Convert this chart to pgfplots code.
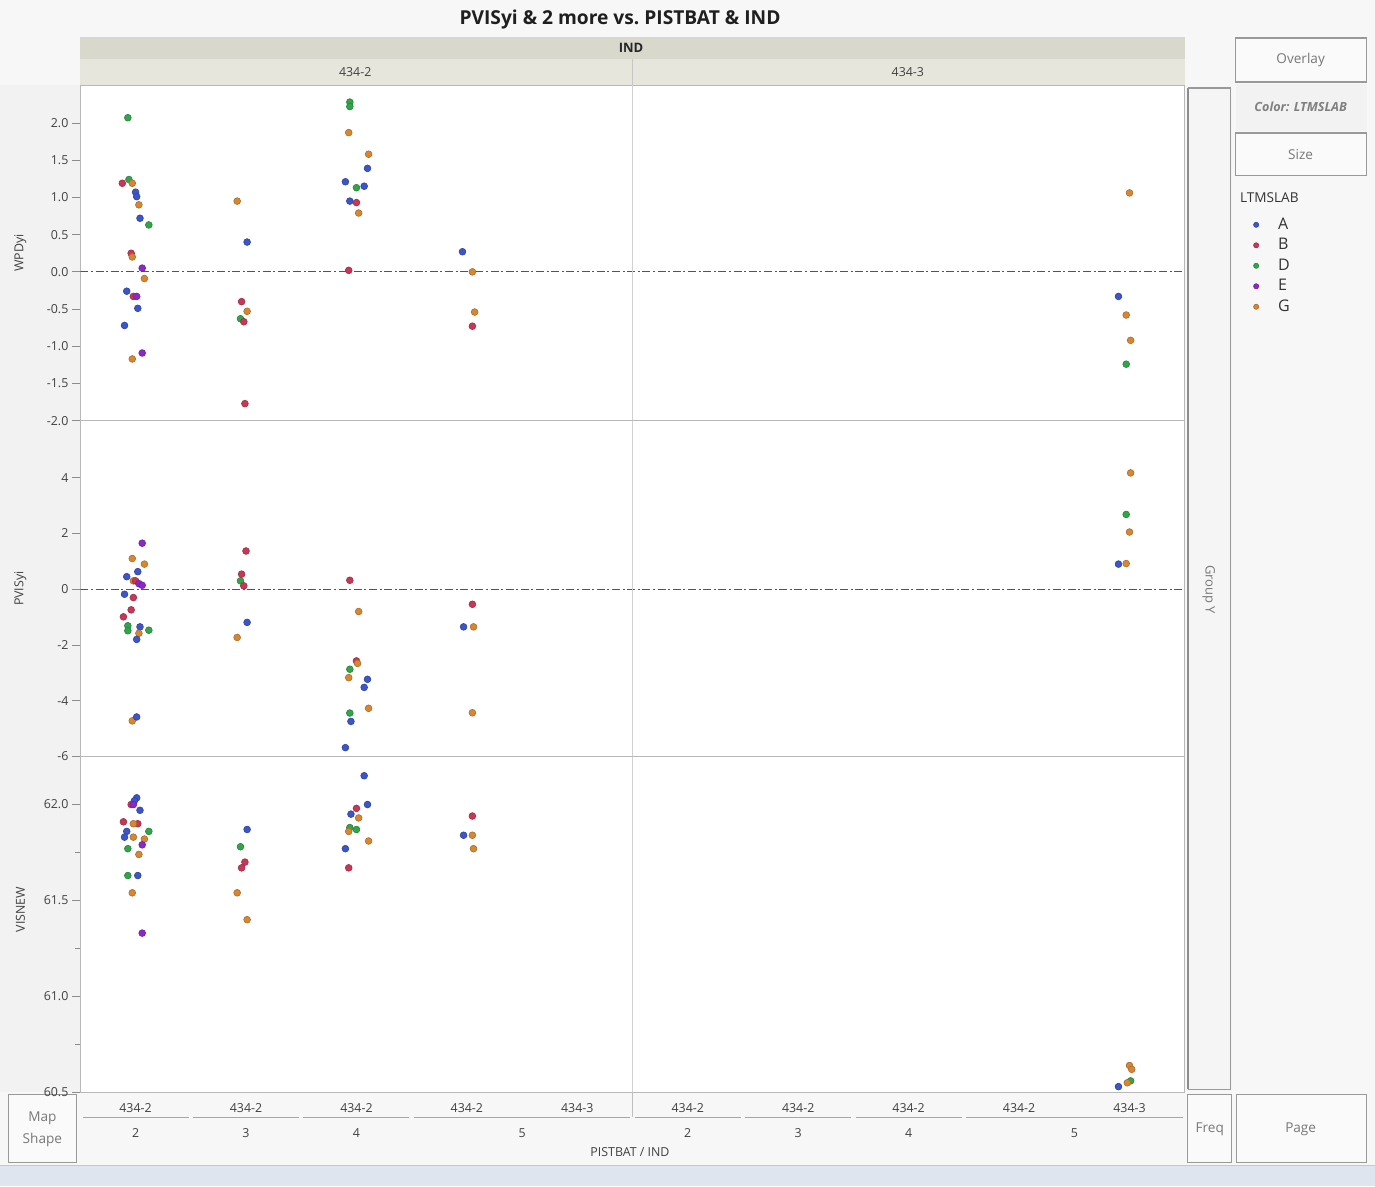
\documentclass[border=0pt]{standalone}
\usepackage{fontspec}
\setmainfont{Open Sans}
\usepackage{pgfplots}
\usepackage{pgfplotstable}
\pgfplotsset{compat=1.18}

\definecolor{cA}{RGB}{60,85,200}
\definecolor{cB}{RGB}{200,55,85}
\definecolor{cD}{RGB}{50,165,75}
\definecolor{cE}{RGB}{140,40,200}
\definecolor{cG}{RGB}{215,135,50}
\definecolor{refl}{RGB}{165,45,75}
\definecolor{bg}{RGB}{247,247,247}
\definecolor{hdrA}{RGB}{217,216,205}
\definecolor{hdrB}{RGB}{231,230,221}
\definecolor{txt}{RGB}{65,65,65}
\definecolor{btn}{RGB}{120,120,120}
\definecolor{strip}{RGB}{223,229,238}

\pgfplotstableread{
x y c
-0.07 2.07 D
-0.12 1.19 B
-0.06 1.24 D
-0.03 1.19 G
0.00 1.07 A
0.01 1.01 A
0.03 0.90 G
0.04 0.72 A
0.12 0.63 D
-0.04 0.25 B
-0.03 0.20 G
0.06 0.05 E
0.08 -0.09 G
-0.08 -0.26 A
-0.02 -0.33 B
0.01 -0.33 E
0.02 -0.49 A
-0.10 -0.72 A
-0.03 -1.17 G
0.06 -1.09 E
0.92 0.95 G
1.01 0.40 A
0.96 -0.40 B
1.01 -0.53 G
0.95 -0.63 D
0.98 -0.67 B
0.99 -1.77 B
1.94 2.28 D
1.94 2.22 D
1.93 1.87 G
2.11 1.58 G
2.10 1.39 A
1.90 1.21 A
2.00 1.13 D
2.07 1.15 A
1.94 0.95 A
2.00 0.93 B
2.02 0.79 G
1.93 0.02 B
2.96 0.27 A
3.05 0.00 G
3.07 -0.54 G
3.05 -0.73 B
9.00 1.06 G
8.90 -0.33 A
8.97 -0.58 G
9.01 -0.92 G
8.97 -1.24 D
}\wpd

\pgfplotstableread{
x y c
0.06 1.65 E
-0.03 1.10 G
0.08 0.90 G
0.02 0.63 A
-0.08 0.45 A
-0.02 0.30 G
0.00 0.30 B
0.03 0.20 E
0.06 0.14 E
-0.10 -0.18 A
-0.02 -0.30 B
-0.04 -0.74 B
-0.11 -0.99 B
-0.07 -1.31 D
0.04 -1.35 A
-0.07 -1.49 D
0.12 -1.47 D
0.03 -1.58 G
0.01 -1.80 A
-0.03 -4.72 G
0.01 -4.58 A
1.00 1.37 B
0.96 0.54 B
0.95 0.30 D
0.98 0.12 B
1.01 -1.19 A
0.92 -1.73 G
1.94 0.32 B
2.02 -0.80 G
2.00 -2.57 B
2.01 -2.66 G
1.94 -2.87 D
1.93 -3.17 G
2.10 -3.23 A
2.07 -3.52 A
2.11 -4.27 G
1.94 -4.44 D
1.95 -4.74 A
1.90 -5.68 A
3.05 -0.54 B
2.97 -1.35 A
3.06 -1.35 G
3.05 -4.43 G
9.01 4.17 G
8.97 2.68 D
9.00 2.05 G
8.90 0.90 A
8.97 0.92 G
}\pvis

\pgfplotstableread{
x y c
0.01 62.035 A
-0.01 62.02 A
-0.04 62.00 B
-0.02 62.00 E
0.04 61.97 A
-0.11 61.91 B
0.02 61.90 B
-0.02 61.90 G
-0.08 61.86 A
0.12 61.86 D
-0.10 61.83 A
-0.02 61.83 G
0.08 61.82 G
0.06 61.79 E
-0.07 61.77 D
0.03 61.74 G
-0.07 61.63 D
0.02 61.63 A
-0.03 61.54 G
0.06 61.33 E
1.01 61.87 A
0.95 61.78 D
0.99 61.70 B
0.96 61.67 B
0.92 61.54 G
1.01 61.40 G
2.07 62.15 A
2.10 62.00 A
2.00 61.98 B
1.95 61.95 A
2.02 61.93 G
1.94 61.88 D
2.00 61.87 D
1.93 61.86 G
2.11 61.81 G
1.90 61.77 A
1.93 61.67 B
3.05 61.94 B
2.97 61.84 A
3.05 61.84 G
3.06 61.77 G
9.00 60.64 G
9.02 60.62 G
9.01 60.56 D
8.98 60.55 G
8.90 60.53 A
}\visnew

\pgfplotsset{
  panel/.style={
    scale only axis, width=552.5pt, height=168pt,
    xmin=-0.5, xmax=9.5, xtick=\empty,
    axis background/.style={fill=white},
    axis line style={draw=black!28},
    ytick pos=left,
    tick align=outside,
    major tick length=4pt, minor tick length=2.5pt,
    tick style={draw=black!45, line width=0.4pt},
    yticklabel style={font=\fontsize{6.2}{7}\selectfont, text=txt, inner sep=1.8pt},
    every axis y label/.style={at={(axis description cs:-0.0543,0.5)}, anchor=center, rotate=90,
      font=\fontsize{6.2}{7}\selectfont, text=txt},
    scatter/classes={
      A={mark=*, fill=cA, draw=cA!80!black},
      B={mark=*, fill=cB, draw=cB!80!black},
      D={mark=*, fill=cD, draw=cD!80!black},
      E={mark=*, fill=cE, draw=cE!80!black},
      G={mark=*, fill=cG, draw=cG!80!black}},
  },
  pts/.style={scatter, only marks, mark size=1.7pt, point meta=explicit symbolic, line width=0.3pt},
  refline/.style={refl, line width=0.55pt, dash pattern=on 4pt off 1.3pt on 1pt off 1.3pt},
  divline/.style={black!18, line width=0.5pt},
}

\begin{document}
\begin{tikzpicture}
\begin{scope}[x=0.5pt,y=-0.5pt]
  \fill[bg] (0,0) rectangle (1375,1187);
  \fill[black!5] (0,85) rectangle (80,1093);
  \fill[strip] (0,1167) rectangle (1375,1187);
  \draw[black!22] (0,1166) -- (1375,1166);
  % header band
  \fill[hdrA] (80,37) rectangle (1185,59);
  \fill[hdrB] (80,59) rectangle (1185,85);
  \draw[black!22] (632,59) -- (632,85);
  \node[font=\bfseries\fontsize{9.6}{10}\selectfont, text=black!88] at (620,20) {PVISyi \& 2 more vs.\ PISTBAT \& IND};
  \node[font=\bfseries\fontsize{6.5}{7}\selectfont, text=black!85] at (631,48) {IND};
  \node[font=\fontsize{6.2}{7}\selectfont, text=txt] at (355,72) {434-2};
  \node[font=\fontsize{6.2}{7}\selectfont, text=txt] at (908,72) {434-3};
  % Group Y box
  \fill[black!4] (1187,88) rectangle (1232,1090);
  \draw[black!45, line width=0.9pt] (1188,88) -- (1188,1090);
  \draw[black!40, line width=0.6pt] (1188,88) -- (1231,88) -- (1231,1090) -- (1188,1090);
  \node[font=\fontsize{6.5}{7}\selectfont, text=btn, rotate=-90] at (1209,590) {Group Y};
  % right panel
  \draw[black!40, line width=0.6pt, fill=black!2] (1236,38) rectangle (1367,82);
  \node[font=\fontsize{6.8}{7}\selectfont, text=btn] at (1301,60) {Overlay};
  \fill[black!5] (1236,84) rectangle (1367,131);
  \node[font=\bfseries\itshape\fontsize{6.3}{7}\selectfont, text=black!50] at (1301,107) {Color: LTMSLAB};
  \draw[black!40, line width=0.6pt, fill=black!2] (1236,133) rectangle (1367,176);
  \node[font=\fontsize{6.8}{7}\selectfont, text=btn] at (1301,155) {Size};
  \node[font=\fontsize{6.8}{7}\selectfont, text=black!80, anchor=west, inner sep=0pt] at (1240,198) {LTMSLAB};
  % bottom boxes
  \draw[black!40, line width=0.6pt, fill=black!2] (8,1095) rectangle (76,1163);
  \node[font=\fontsize{6.8}{7}\selectfont, text=btn] at (42,1119) {Map};
  \node[font=\fontsize{6.8}{7}\selectfont, text=btn] at (42,1141) {Shape};
  \draw[black!40, line width=0.6pt, fill=black!2] (1188,1095) rectangle (1232,1163);
  \node[font=\fontsize{6.8}{7}\selectfont, text=btn] at (1210,1130) {Freq};
  \draw[black!40, line width=0.6pt, fill=black!2] (1237,1095) rectangle (1367,1163);
  \node[font=\fontsize{6.8}{7}\selectfont, text=btn] at (1301,1130) {Page};
\end{scope}

% ---------- panel 1: WPDyi ----------
\begin{axis}[panel, at={(40pt,-210.5pt)}, anchor=south west,
  ymin=-2, ymax=2.51,
  ytick={-2,-1.5,-1,-0.5,0,0.5,1,1.5,2},
  yticklabels={-2.0,-1.5,-1.0,-0.5,0.0,0.5,1.0,1.5,2.0},
  ylabel={WPDyi},
  legend style={at={(axis description cs:1.0566,0.61)}, anchor=north west,
    draw=none, fill=none, inner sep=0pt, row sep=1.75pt,
    font=\fontsize{8}{9}\selectfont,
    nodes={inner sep=0.5pt, text height=6pt, text depth=1.5pt, text=black!80}},
  legend cell align=left,
  legend image code/.code={\path[draw=none, fill=none] (0cm,0cm) -- (0.52cm,0cm);
    \draw[#1, mark size=1.3pt] plot coordinates {(0.15cm,0cm)};},
]
  \addplot[refline, forget plot] coordinates {(-0.5,0) (9.5,0)};
  \addplot[divline, forget plot] coordinates {(4.5,-2) (4.5,2.51)};
  \addplot[pts] table[x=x, y=y, meta=c] {\wpd};
  \legend{A,B,D,E,G}
\end{axis}

% ---------- panel 2: PVISyi ----------
\begin{axis}[panel, at={(40pt,-378.5pt)}, anchor=south west,
  ymin=-6, ymax=6.04,
  ytick={-6,-4,-2,0,2,4},
  yticklabels={-6,-4,-2,0,2,4},
  ylabel={PVISyi},
]
  \addplot[refline, forget plot] coordinates {(-0.5,0) (9.5,0)};
  \addplot[divline, forget plot] coordinates {(4.5,-6) (4.5,6.04)};
  \addplot[pts] table[x=x, y=y, meta=c] {\pvis};
\end{axis}

% ---------- panel 3: VISNEW ----------
\begin{axis}[panel, at={(40pt,-546.5pt)}, anchor=south west,
  ymin=60.5, ymax=62.25,
  ytick={60.5,61,61.5,62},
  yticklabels={60.5,61.0,61.5,62.0},
  minor ytick={60.75,61.25,61.75},
  every axis y label/.append style={at={(axis description cs:-0.0543,0.545)}},
  ylabel={VISNEW},
  xtick={0,1,2,3,4,5,6,7,8,9},
  xticklabels={434-2,434-2,434-2,434-2,434-3,434-2,434-2,434-2,434-2,434-3},
  xtick style={draw=none},
  xticklabel style={font=\fontsize{6.2}{7}\selectfont, text=txt, inner sep=1.5pt},
  extra x ticks={0,1,2,3.5,5,6,7,8.5},
  extra x tick labels={2,3,4,5,2,3,4,5},
  extra x tick style={xtick style={draw=none}, xticklabel style={yshift=-12.5pt}},
  xlabel={PISTBAT / IND},
  xlabel style={font=\fontsize{6.2}{7}\selectfont, text=txt, at={(axis description cs:0.4977,-0.179)}, anchor=center},
]
  \addplot[divline, forget plot] coordinates {(4.5,60.5) (4.5,62.25)};
  \addplot[pts] table[x=x, y=y, meta=c] {\visnew};
\end{axis}

\begin{scope}[x=0.5pt,y=-0.5pt]
  \foreach \a/\b in {82.2/188.3, 192.7/298.8, 303.2/409.3, 413.7/630.3, 634.7/740.8, 745.2/851.3, 855.7/961.8, 966.2/1182.8}
    \draw[black!35, line width=0.5pt] (\a,1118) -- (\b,1118);
  \draw[black!25] (632,1093) -- (632,1118);
\end{scope}
\end{tikzpicture}
\end{document}
